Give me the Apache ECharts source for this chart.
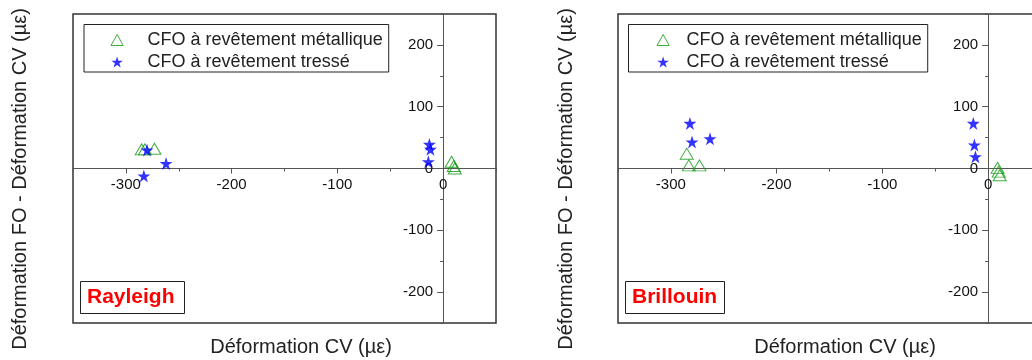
<!DOCTYPE html>
<html>
<head>
<meta charset="utf-8">
<script src="https://cdn.jsdelivr.net/npm/echarts@6/dist/echarts.min.js"></script>
<style>
  html, body { margin: 0; padding: 0; background: #ffffff; }
  #chart { width: 1032px; height: 360px; }
</style>
</head>
<body>
<div id="chart"></div>
<script>
// ---- Text ----
const seriesNames = ['CFO à revêtement métallique', 'CFO à revêtement tressé'];
const panelLabels = ['Rayleigh', 'Brillouin'];
const xAxisTitle = 'Déformation CV (µε)';
const yAxisTitle = 'Déformation FO - Déformation CV (µε)';

// ---- Axis ranges and labelled ticks ----
const xRange = [-350, 50];
const yRange = [-250, 250];
const xMajorTicks = [-300, -200, -100, 0];
const yMajorTicks = [-200, -100, 0, 100, 200];

// ---- Data: Rayleigh panel ----
const rayleighMetalX = [-285, -282, -273, 8, 10, 11];
const rayleighMetalY = [31, 31, 32, 11, 4, 0];
const rayleighBraidX = [-280, -283, -262, -13, -12, -14];
const rayleighBraidY = [30, -12, 8, 39, 31, 11];

// ---- Data: Brillouin panel ----
const brillouinMetalX = [-285, -283, -273, 9, 10, 11];
const brillouinMetalY = [24, 5, 5, 1, -5, -11];
const brillouinBraidX = [-282, -280, -263, -14, -13, -12];
const brillouinBraidY = [73, 43, 48, 73, 38, 19];

// ---- Styling ----
const FONT = '"Liberation Sans", Arial, sans-serif';
const GREEN = '#119911';
const BLUE = '#0000ff';
const AXIS_COLOR = '#555555';
const STAR = 'path://M0,-10L2.245,-3.09L9.511,-3.09L3.633,1.18L5.878,8.09L0,3.82L-5.878,8.09L-3.633,1.18L-9.511,-3.09L-2.245,-3.09Z';
const TRIANGLE = 'path://M5,0L10,9L0,9Z';

const zip = (xs, ys) => xs.map((x, i) => [x, ys[i]]);

const panels = [
  { metal: zip(rayleighMetalX, rayleighMetalY), braid: zip(rayleighBraidX, rayleighBraidY) },
  { metal: zip(brillouinMetalX, brillouinMetalY), braid: zip(brillouinBraidX, brillouinBraidY) }
];

// Plot frames (the second one runs past the right edge of the canvas)
const grids = [
  { left: 73, top: 14, width: 423, height: 309 },
  { left: 618, top: 14, width: 423, height: 309 }
];

// Each dimension of a panel gets two axes sharing one scale:
// a labelled one with long ticks at the labelled values, and one with short ticks every 50.
// Both are shifted (offset) so that they cross at the origin.
function baseAxis(dim, gridIndex, range) {
  return {
    type: 'value',
    gridIndex: gridIndex,
    min: range[0],
    max: range[1],
    interval: 50,
    offset: 0,
    position: dim === 'x' ? 'bottom' : 'left',
    splitLine: { show: false },
    axisLine: { show: true, onZero: false, lineStyle: { color: AXIS_COLOR, width: 1 } }
  };
}

function labelledAxis(dim, gridIndex, range, majors) {
  const isX = dim === 'x';
  return Object.assign(baseAxis(dim, gridIndex, range), {
    axisTick: { show: true, inside: false, length: isX ? 5 : 6, customValues: majors, lineStyle: { color: AXIS_COLOR, width: 1 } },
    axisLabel: {
      show: true,
      customValues: majors,
      margin: isX ? 9 : 10,
      fontSize: 15,
      fontFamily: FONT,
      color: '#111111'
    }
  });
}

function minorAxis(dim, gridIndex, range) {
  return Object.assign(baseAxis(dim, gridIndex, range), {
    axisTick: { show: true, inside: false, length: 3, lineStyle: { color: AXIS_COLOR, width: 1 } },
    axisLabel: { show: false }
  });
}

const xAxes = [], yAxes = [], series = [];
panels.forEach((p, g) => {
  xAxes.push(labelledAxis('x', g, xRange, xMajorTicks), minorAxis('x', g, xRange));
  yAxes.push(labelledAxis('y', g, yRange, yMajorTicks), minorAxis('y', g, yRange));
  series.push({
    type: 'scatter',
    name: seriesNames[0],
    xAxisIndex: 2 * g,
    yAxisIndex: 2 * g,
    symbol: 'triangle',
    symbolSize: [13, 11],
    itemStyle: { color: 'rgba(0,0,0,0)', borderColor: GREEN, borderWidth: 1 },
    emphasis: { disabled: true },
    data: p.metal
  });
  series.push({
    type: 'scatter',
    name: seriesNames[1],
    xAxisIndex: 2 * g,
    yAxisIndex: 2 * g,
    symbol: STAR,
    symbolSize: [13, 13],
    itemStyle: { color: BLUE },
    emphasis: { disabled: true },
    data: p.braid
  });
});

function legendAt(left, padLeft, itemWidth) {
  return {
    left: left,
    top: 24.5,
    orient: 'vertical',
    align: 'left',
    itemWidth: itemWidth,
    itemHeight: 11,
    itemGap: 4,
    padding: [6.5, 6, 1, padLeft],
    borderColor: '#222222',
    borderWidth: 1,
    selectedMode: false,
    textStyle: { fontSize: 18, lineHeight: 18, color: '#222222', fontFamily: FONT },
    data: [
      { name: seriesNames[0], icon: TRIANGLE, itemStyle: { color: 'rgba(0,0,0,0)', borderColor: GREEN, borderWidth: 1 } },
      { name: seriesNames[1], icon: STAR, itemStyle: { color: BLUE, borderWidth: 0 } }
    ]
  };
}

function panelTitle(text, left, padding) {
  return {
    text: text,
    left: left,
    top: 281,
    padding: padding,
    borderColor: '#222222',
    borderWidth: 1,
    textStyle: { color: '#ff0000', fontWeight: 'bold', fontSize: 21, lineHeight: 21, fontFamily: FONT }
  };
}

function axisTitles(xCenter, yCenterX) {
  return [
    {
      type: 'text',
      x: xCenter,
      y: 347.5,
      style: { text: xAxisTitle, font: '20px ' + FONT, fill: '#222222', align: 'center', verticalAlign: 'middle' }
    },
    {
      type: 'text',
      x: yCenterX,
      y: 179,
      rotation: Math.PI / 2,
      style: { text: yAxisTitle, font: '20px ' + FONT, fill: '#222222', align: 'center', verticalAlign: 'middle' }
    }
  ];
}

const chart = echarts.init(document.getElementById('chart'), null, { renderer: 'canvas' });
chart.setOption({
  backgroundColor: '#ffffff',
  animation: false,
  tooltip: { show: false },
  grid: grids.map(r => Object.assign({
    show: true,
    borderColor: '#333333',
    borderWidth: 1.5,
    backgroundColor: 'rgba(0,0,0,0)',
    containLabel: false,
    outerBoundsMode: 'none'
  }, r)),
  xAxis: xAxes,
  yAxis: yAxes,
  legend: [legendAt(84, 26.5, 51), legendAt(628.5, 28, 37)],
  title: [panelTitle(panelLabels[0], 80.5, [6, 10, 6, 6.5]), panelTitle(panelLabels[1], 625, [6, 8, 6, 7])],
  graphic: [...axisTitles(301, 20.5), ...axisTitles(845, 566)],
  series: series
});

// Move every axis onto the origin of its panel: find where (0, 0) lands
// and shift the axes from the frame edge to that line.
const xOffsets = [], yOffsets = [];
grids.forEach((r, g) => {
  const origin = chart.convertToPixel({ xAxisIndex: 2 * g, yAxisIndex: 2 * g }, [0, 0]);
  const dy = -((r.top + r.height) - origin[1]);
  const dx = -(origin[0] - r.left);
  xOffsets.push(dy, dy);
  yOffsets.push(dx, dx);
});
chart.setOption({
  xAxis: xOffsets.map(o => ({ offset: o })),
  yAxis: yOffsets.map(o => ({ offset: o }))
});
</script>
</body>
</html>
